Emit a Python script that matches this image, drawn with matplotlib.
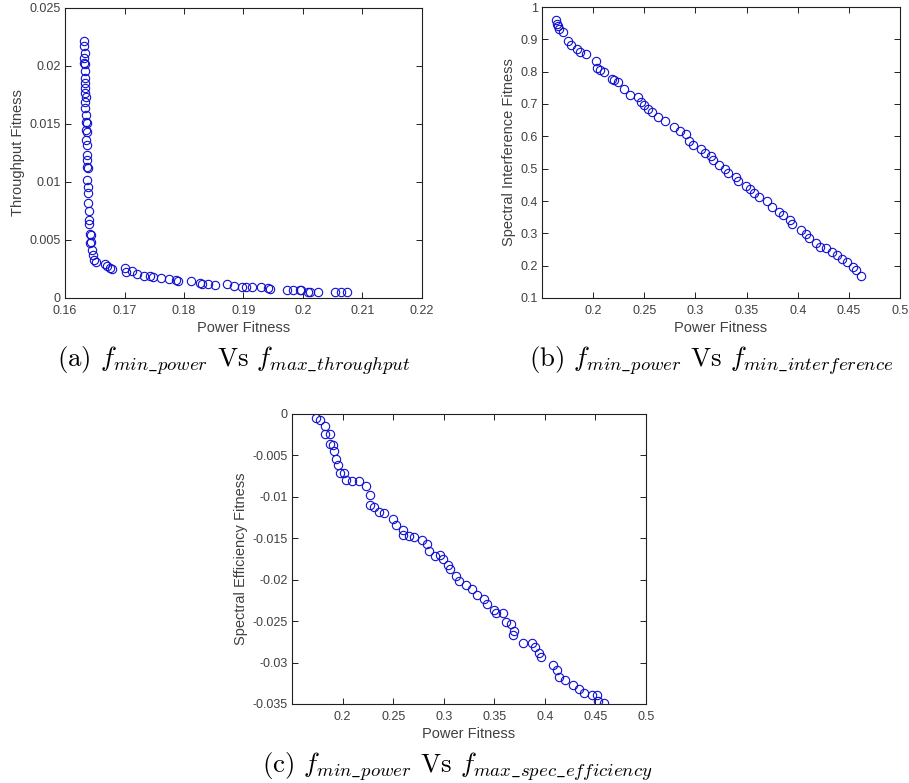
import matplotlib
matplotlib.use("Agg")
import matplotlib.pyplot as plt
import numpy as np

plt.rcParams['mathtext.fontset'] = 'cm'
plt.rcParams['font.family'] = ['Liberation Sans', 'DejaVu Sans']

# ---------------- data ----------------
# (a) power vs throughput
power_a = [0.16325, 0.16325, 0.1633, 0.16325, 0.1632, 0.16336, 0.1633, 0.16341, 0.16336, 0.16341,
           0.16336, 0.16347, 0.16341, 0.16341, 0.16353, 0.16353, 0.16364, 0.16353, 0.16364, 0.16353,
           0.16364, 0.16375, 0.16375, 0.1637, 0.1638, 0.16375, 0.16386, 0.16392, 0.16392, 0.16403,
           0.16409, 0.16403, 0.1642, 0.16431, 0.16431, 0.1642, 0.16453, 0.1647, 0.16492, 0.16515,
           0.16677, 0.16700, 0.16755, 0.16789, 0.17013, 0.17024, 0.17125, 0.17214, 0.17332, 0.17433,
           0.17472, 0.17617, 0.17752, 0.17863, 0.17903, 0.18110, 0.18266, 0.18300, 0.18406, 0.18529,
           0.18731, 0.18848, 0.18977, 0.19039, 0.19151, 0.19290, 0.19414, 0.19453, 0.19733, 0.19833,
           0.19945, 0.19973, 0.20091, 0.20124, 0.20247, 0.20538, 0.20639, 0.20740]
throughput_a = [0.02212, 0.02169, 0.02111, 0.02068, 0.02025, 0.02019, 0.01953, 0.01895, 0.01852, 0.01809,
                0.01765, 0.01737, 0.01693, 0.01636, 0.01578, 0.01521, 0.01506, 0.01449, 0.01434, 0.01362,
                0.01319, 0.01233, 0.01189, 0.01132, 0.01117, 0.01017, 0.00959, 0.00902, 0.00815, 0.00752,
                0.00671, 0.00636, 0.00556, 0.00541, 0.00484, 0.00475, 0.00412, 0.00369, 0.00331, 0.00311,
                0.00291, 0.00276, 0.00259, 0.00251, 0.00259, 0.00225, 0.00233, 0.00204, 0.00193, 0.00187,
                0.00181, 0.00176, 0.00164, 0.00153, 0.00147, 0.00144, 0.00130, 0.00124, 0.00124, 0.00115,
                0.00118, 0.00107, 0.00095, 0.00095, 0.00092, 0.00092, 0.00089, 0.00078, 0.00072, 0.00066,
                0.00066, 0.00069, 0.00052, 0.00049, 0.00052, 0.00055, 0.00055, 0.00055]

# (b) power vs spectral interference
power_b = [0.1636, 0.1643, 0.1656, 0.1669, 0.1708, 0.1753, 0.1786, 0.1844, 0.1870, 0.1935,
           0.2026, 0.2039, 0.2071, 0.2110, 0.2182, 0.2208, 0.2240, 0.2305, 0.2364, 0.2435,
           0.2468, 0.2494, 0.2533, 0.2578, 0.2636, 0.2701, 0.2792, 0.2851, 0.2903, 0.2935,
           0.2981, 0.3052, 0.3097, 0.3156, 0.3175, 0.3234, 0.3286, 0.3318, 0.3396, 0.3416,
           0.3494, 0.3533, 0.3572, 0.3624, 0.3695, 0.3747, 0.3818, 0.3857, 0.3922, 0.3942,
           0.4033, 0.4085, 0.4111, 0.4182, 0.4221, 0.4279, 0.4331, 0.4383, 0.4435, 0.4481,
           0.4539, 0.4565, 0.4623]
interference_b = [0.9607, 0.9483, 0.9401, 0.9318, 0.9215, 0.8946, 0.8822, 0.8698, 0.8595, 0.8553,
                  0.8326, 0.8099, 0.8037, 0.7995, 0.7768, 0.7747, 0.7685, 0.7479, 0.7293, 0.7210,
                  0.7066, 0.6983, 0.6859, 0.6756, 0.6611, 0.6466, 0.6280, 0.6177, 0.6073, 0.5867,
                  0.5722, 0.5619, 0.5495, 0.5391, 0.5267, 0.5102, 0.4978, 0.4854, 0.4730, 0.4606,
                  0.4461, 0.4358, 0.4255, 0.4131, 0.3986, 0.3821, 0.3656, 0.3552, 0.3408, 0.3284,
                  0.3097, 0.2973, 0.2870, 0.2705, 0.2581, 0.2560, 0.2436, 0.2333, 0.2209, 0.2106,
                  0.1961, 0.1858, 0.1672]

# (c) power vs spectral efficiency
power_c = [0.1734, 0.1774, 0.1826, 0.1826, 0.1879, 0.1872, 0.1905, 0.1918, 0.1938, 0.1951,
           0.1970, 0.2016, 0.2030, 0.2095, 0.2167, 0.2233, 0.2272, 0.2272, 0.2312, 0.2364,
           0.2410, 0.2495, 0.2528, 0.2594, 0.2594, 0.2653, 0.2705, 0.2784, 0.2837, 0.2856,
           0.2915, 0.2961, 0.2988, 0.3040, 0.3066, 0.3119, 0.3152, 0.3217, 0.3283, 0.3329,
           0.3394, 0.3427, 0.3493, 0.3519, 0.3591, 0.3611, 0.3670, 0.3690, 0.3683, 0.3788,
           0.3873, 0.3900, 0.3939, 0.3965, 0.4077, 0.4123, 0.4143, 0.4202, 0.4280, 0.4333,
           0.4385, 0.4471, 0.4517, 0.4523, 0.4589]
efficiency_c = [-0.000523, -0.000724, -0.001448, -0.002414, -0.002414, -0.003621, -0.003741, -0.004425,
                -0.005391, -0.006195, -0.007080, -0.007080, -0.007966, -0.008126, -0.008126, -0.008690,
                -0.009816, -0.010943, -0.011184, -0.011828, -0.011989, -0.012632, -0.013356, -0.014000,
                -0.014644, -0.014724, -0.014885, -0.015207, -0.015690, -0.016494, -0.017138, -0.017058,
                -0.017540, -0.018264, -0.018667, -0.019552, -0.020195, -0.020678, -0.021080, -0.021885,
                -0.022287, -0.022931, -0.023655, -0.023977, -0.023977, -0.025104, -0.025345, -0.026230,
                -0.026632, -0.027598, -0.027598, -0.028080, -0.028885, -0.029368, -0.030253, -0.030897,
                -0.031701, -0.032104, -0.032667, -0.033150, -0.033713, -0.033954, -0.033874, -0.034678,
                -0.034839]

xticks_a = [0.16, 0.17, 0.18, 0.19, 0.2, 0.21, 0.22]
xticklabels_a = ['0.16', '0.17', '0.18', '0.19', '0.2', '0.21', '0.22']
yticks_a = [0, 0.005, 0.01, 0.015, 0.02, 0.025]
yticklabels_a = ['0', '0.005', '0.01', '0.015', '0.02', '0.025']

xticks_bc = [0.2, 0.25, 0.3, 0.35, 0.4, 0.45, 0.5]
xticklabels_bc = ['0.2', '0.25', '0.3', '0.35', '0.4', '0.45', '0.5']
yticks_b = [0.1, 0.2, 0.3, 0.4, 0.5, 0.6, 0.7, 0.8, 0.9, 1.0]
yticklabels_b = ['0.1', '0.2', '0.3', '0.4', '0.5', '0.6', '0.7', '0.8', '0.9', '1']
yticks_c = [-0.035, -0.03, -0.025, -0.02, -0.015, -0.01, -0.005, 0]
yticklabels_c = ['-0.035', '-0.03', '-0.025', '-0.02', '-0.015', '-0.01', '-0.005', '0']

captions = [r"(a) $f_{min\_power}$ Vs $f_{max\_throughput}$",
            r"(b) $f_{min\_power}$ Vs $f_{min\_interference}$",
            r"(c) $f_{min\_power}$ Vs $f_{max\_spec\_efficiency}$"]

# ---------------- figure ----------------
TXT = '#404040'
W, H = 909, 783
fig = plt.figure(figsize=(W / 100, H / 100), dpi=100)


def box(l, t, r, b):
    return [l / W, 1 - b / H, (r - l) / W, (b - t) / H]


def style(ax, xlim, ylim, xt, xtl, yt, ytl, ylabel):
    ax.set_xlim(*xlim)
    ax.set_ylim(*ylim)
    ax.set_xticks(xt)
    ax.set_xticklabels(xtl)
    ax.set_yticks(yt)
    ax.set_yticklabels(ytl)
    ax.tick_params(direction='in', top=True, right=True, length=4, width=0.7,
                   labelsize=9, labelcolor=TXT, color='#202020', pad=3)
    ax.tick_params(axis='x', pad=5)
    for s in ax.spines.values():
        s.set_linewidth(0.8)
        s.set_color('#202020')
    ax.set_xlabel('Power Fitness', fontsize=10.5, color=TXT, labelpad=3)
    ax.set_ylabel(ylabel, fontsize=10.5, color=TXT, labelpad=3)


mk = dict(linestyle='none', marker='o', markersize=6, markerfacecolor='none',
          markeredgecolor='#1010d0', markeredgewidth=0.8)

ax1 = fig.add_axes(box(65, 8, 422, 298))
ax1.plot(power_a, throughput_a, **mk)
style(ax1, (0.16, 0.22), (0, 0.025), xticks_a, xticklabels_a, yticks_a, yticklabels_a,
      'Throughput Fitness')

ax2 = fig.add_axes(box(542, 7, 900, 298))
ax2.plot(power_b, interference_b, **mk)
style(ax2, (0.15, 0.5), (0.1, 1.0), xticks_bc, xticklabels_bc, yticks_b, yticklabels_b,
      'Spectral Interference Fitness')

ax3 = fig.add_axes(box(292, 414, 646, 704))
ax3.plot(power_c, efficiency_c, **mk)
style(ax3, (0.15, 0.5), (-0.035, 0), xticks_bc, xticklabels_bc, yticks_c, yticklabels_c,
      'Spectral Efficiency Fitness')

cap_kw = dict(fontsize=19.3, family='cmr10', ha='center', va='center', color='black')
fig.text(234 / W, 1 - 361 / H, captions[0], **cap_kw)
fig.text(711 / W, 1 - 361 / H, captions[1], **cap_kw)
fig.text(457 / W, 1 - 767 / H, captions[2], **cap_kw)

fig.savefig('out.png', dpi=100)
